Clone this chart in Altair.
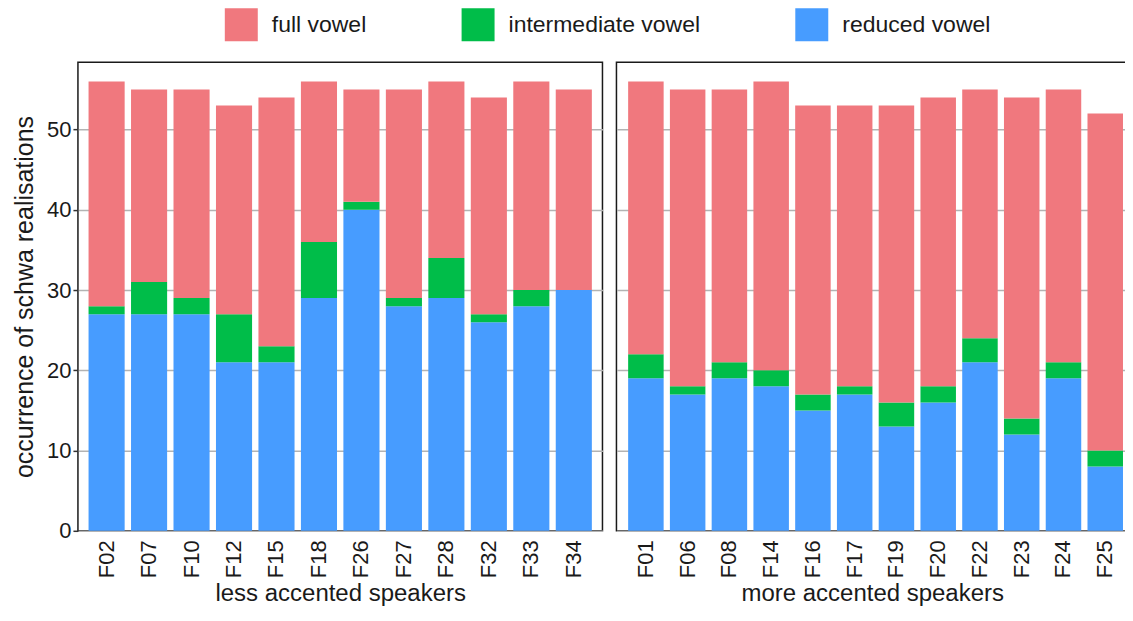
import altair as alt
import pandas as pd

categories = ["full vowel", "intermediate vowel", "reduced vowel"]
colors = ["#F0787E", "#00BD49", "#479CFF"]

left_title = "less accented speakers"
left_speakers = ["F02", "F07", "F10", "F12", "F15", "F18", "F26", "F27", "F28", "F32", "F33", "F34"]
left_reduced = [27, 27, 27, 21, 21, 29, 40, 28, 29, 26, 28, 30]
left_intermediate = [1, 4, 2, 6, 2, 7, 1, 1, 5, 1, 2, 0]
left_full = [28, 24, 26, 26, 31, 20, 14, 26, 22, 27, 26, 25]

right_title = "more accented speakers"
right_speakers = ["F01", "F06", "F08", "F14", "F16", "F17", "F19", "F20", "F22", "F23", "F24", "F25"]
right_reduced = [19, 17, 19, 18, 15, 17, 13, 16, 21, 12, 19, 8]
right_intermediate = [3, 1, 2, 2, 2, 1, 3, 2, 3, 2, 2, 2]
right_full = [34, 37, 34, 36, 36, 35, 37, 36, 31, 40, 34, 42]

y_ticks = [0, 10, 20, 30, 40, 50]

rows = []
for grp, spk, red, inter, full in [
    (left_title, left_speakers, left_reduced, left_intermediate, left_full),
    (right_title, right_speakers, right_reduced, right_intermediate, right_full),
]:
    for s, r, i, f in zip(spk, red, inter, full):
        rows.append(dict(group=grp, speaker=s, category="reduced vowel", count=r, ord=0))
        rows.append(dict(group=grp, speaker=s, category="intermediate vowel", count=i, ord=1))
        rows.append(dict(group=grp, speaker=s, category="full vowel", count=f, ord=2))
df = pd.DataFrame(rows)

FONT = "Liberation Sans"
TXT = "#1a1a1a"

legend = alt.Legend(
    orient="none", legendX=147, legendY=-54, direction="horizontal", title=None,
    symbolType="square", symbolSize=1089, symbolStrokeWidth=0, symbolOpacity=1,
    labelFontSize=23, labelFont=FONT, labelColor=TXT, labelOffset=14, columnPadding=95,
    labelLimit=400,
)


def panel(group, speakers, show_y, width, outer, align):
    if show_y:
        yaxis = alt.Axis(
            values=y_ticks, title="occurrence of schwa realisations", titleFontSize=25,
            titleFont=FONT, titleFontWeight="normal", titleColor=TXT, titlePadding=9,
            labelFontSize=22, labelFont=FONT, labelColor=TXT, labelPadding=2,
            tickSize=5, tickColor="#333333", tickWidth=1.5, domain=False,
            grid=True, gridColor="#b3b3b3", gridWidth=1.5,
        )
    else:
        yaxis = alt.Axis(
            values=y_ticks, title=None, labels=False, ticks=False, domain=False,
            grid=True, gridColor="#b3b3b3", gridWidth=1.5,
        )
    return alt.Chart(df).transform_filter(alt.datum.group == group).mark_bar().encode(
        x=alt.X(
            "speaker:N", sort=speakers,
            scale=alt.Scale(paddingInner=0.15, paddingOuter=outer, align=align),
            axis=alt.Axis(
                title=group, titleFontSize=24, titleFont=FONT, titleFontWeight="normal",
                titleColor=TXT, titlePadding=4, labelAngle=270, labelFontSize=22,
                labelFont=FONT, labelColor=TXT, labelPadding=9, ticks=False, domain=False,
            ),
        ),
        y=alt.Y(
            "count:Q", stack="zero",
            scale=alt.Scale(domain=[0, 58.4], nice=False, zero=True),
            axis=yaxis,
        ),
        color=alt.Color(
            "category:N",
            scale=alt.Scale(domain=categories, range=colors),
            legend=legend,
        ),
        order=alt.Order("ord:Q", sort="ascending"),
    ).properties(width=width, height=469)


chart = alt.hconcat(
    panel(left_title, left_speakers, True, 525, 0.25, 0.5),
    panel(right_title, right_speakers, False, 512, 0.2, 0.7),
    spacing=12,
).resolve_scale(color="shared", y="shared").properties(
    padding={"left": 3, "top": 0, "right": -4, "bottom": -1}
).configure_view(stroke="#1a1a1a", strokeWidth=1.5)

chart.save("out.html", embed_options={"renderer": "svg", "actions": False})
